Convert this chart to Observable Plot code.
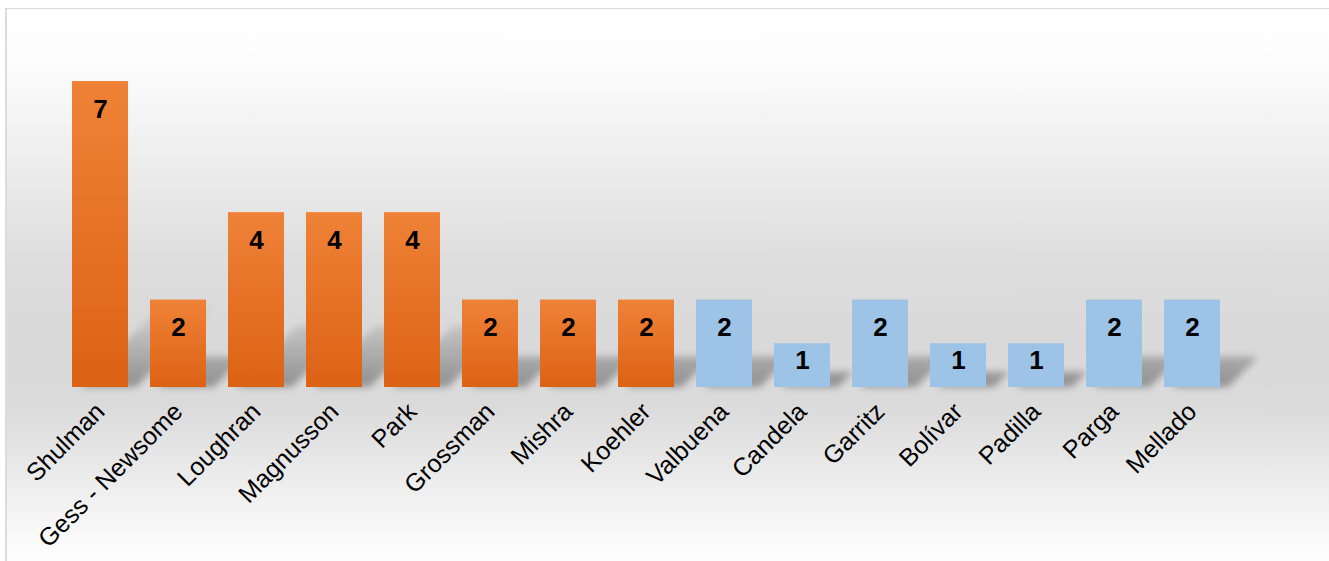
<!DOCTYPE html>
<html><head><meta charset="utf-8">
<script src="https://cdn.jsdelivr.net/npm/d3@7"></script>
<script src="https://cdn.jsdelivr.net/npm/@observablehq/plot@0.6"></script>
<style>
html,body{margin:0;padding:0;background:#fff;}
body{width:1329px;height:561px;overflow:hidden;position:relative;}
#frame{position:absolute;left:5px;top:8px;width:1340px;height:570px;border-top:1px solid #d9d9d9;border-left:2px solid #dcdcdc;
background:linear-gradient(to bottom,#ffffff 0%,#fcfcfc 10%,#ececec 28%,#dddddd 45%,#d9d9d9 58%,#dbdbdb 70%,#eeeeee 84%,#fbfbfb 94%,#ffffff 100%);}
#chart{position:absolute;left:0;top:0;}
</style></head>
<body>
<div id="frame"></div>
<div id="chart"></div>
<script>
const authors = ["Shulman","Gess - Newsome","Loughran","Magnusson","Park","Grossman","Mishra","Koehler","Valbuena","Candela","Garritz","Bolívar","Padilla","Parga","Mellado"];
const counts = [7,2,4,4,4,2,2,2,2,1,2,1,1,2,2];
const groups = ["A","A","A","A","A","A","A","A","B","B","B","B","B","B","B"];

const data = authors.map((a,i) => ({author: a, value: counts[i], group: groups[i]}));
const font = "'Liberation Sans', Arial, sans-serif";

const plot = Plot.plot({
  width: 1329,
  height: 561,
  marginLeft: 50,
  marginRight: 87,
  marginTop: 81,
  marginBottom: 174,
  style: {background: "transparent", fontFamily: font},
  x: {domain: authors, padding: 0.282, label: null},
  y: {domain: [0, 7], axis: null},
  marks: [
    Plot.barY(data, {x: "author", y: "value", fill: "url(#shadowFade)", ariaDescription: "shadow"}),
    Plot.barY(data.filter(d => d.group === "A"), {x: "author", y: "value", fill: "url(#orangeGrad)"}),
    Plot.barY(data.filter(d => d.group === "B"), {x: "author", y: "value", fill: "#9DC3E6"}),
    Plot.text(data.filter(d => d.value > 1), {x: "author", y: "value", text: d => String(d.value), dy: 28, fontSize: 26, fontWeight: "bold", fill: "#000"}),
    Plot.text(data.filter(d => d.value === 1), {x: "author", y: "value", text: d => String(d.value), dy: 17, fontSize: 26, fontWeight: "bold", fill: "#000"}),
    Plot.axisX({tickRotate: -45, tickSize: 0, tickPadding: 20, fontSize: 25, fill: "#000", label: null})
  ]
});

const ns = "http://www.w3.org/2000/svg";
const svg = plot.tagName.toLowerCase() === "svg" ? plot : plot.querySelector("svg");
const y0 = plot.scale("y").apply(0);
const defs = document.createElementNS(ns, "defs");
defs.innerHTML = `
<linearGradient id="orangeGrad" x1="0" y1="0" x2="0" y2="1">
  <stop offset="0" stop-color="#EF8237"/>
  <stop offset="1" stop-color="#DC6215"/>
</linearGradient>
<linearGradient id="shadowFade" gradientUnits="userSpaceOnUse" x1="0" y1="${y0}" x2="0" y2="${y0 - 240}">
  <stop offset="0" stop-color="#000" stop-opacity="0.34"/>
  <stop offset="1" stop-color="#000" stop-opacity="0"/>
</linearGradient>
<filter id="shadowBlur" x="-20%" y="-40%" width="140%" height="180%">
  <feGaussianBlur stdDeviation="3.5"/>
</filter>`;
svg.insertBefore(defs, svg.firstChild);
const sg = svg.querySelector('[aria-description="shadow"]');
if (sg) {
  const outer = document.createElementNS(ns, "g");
  outer.setAttribute("filter", "url(#shadowBlur)");
  sg.parentNode.insertBefore(outer, sg);
  outer.appendChild(sg);
  sg.setAttribute("transform", `translate(8,${y0}) skewX(-45) scale(1,0.35) translate(0,${-y0})`);
}
document.getElementById("chart").appendChild(plot);
</script>
</body></html>
